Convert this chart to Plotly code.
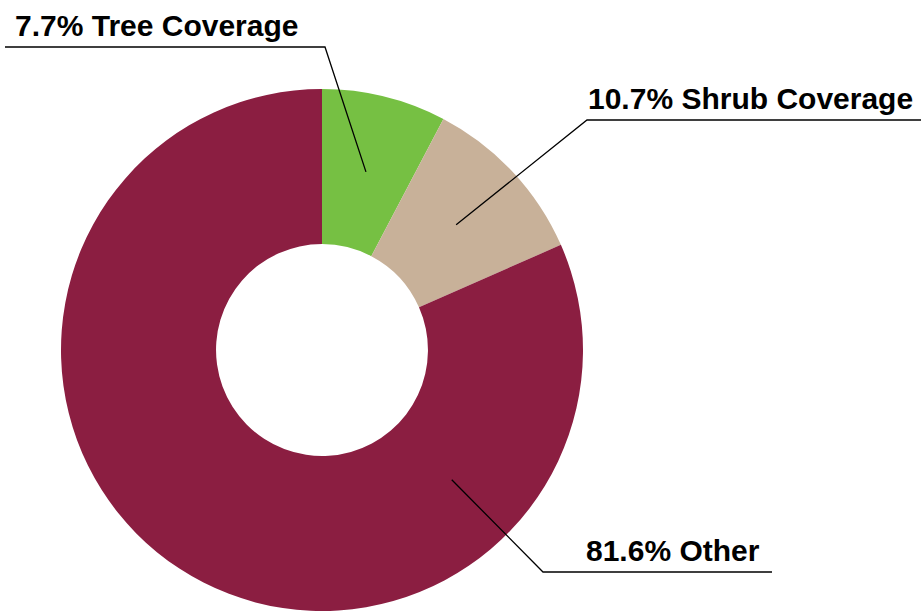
import math
import plotly.graph_objects as go

categories = ["Tree Coverage", "Shrub Coverage", "Other"]
values = [7.7, 10.7, 81.6]
colors = ["#76c043", "#c8b199", "#8b1e41"]
# label angles (deg clockwise from 12 o'clock); None -> mid-slice
label_angle_override = [None, None, 135.0]

W, H = 921, 612
# donut geometry in pixels
cx, cy, R = 322, 350, 261
hole = 0.406

fig = go.Figure(go.Pie(
    labels=categories, values=values, sort=False, direction="clockwise", rotation=0,
    hole=hole, marker=dict(colors=colors, line=dict(width=0)),
    textinfo="none", hoverinfo="label+percent", showlegend=False,
    domain=dict(x=[(cx - R) / W, (cx + R) / W], y=[1 - (cy + R) / H, 1 - (cy - R) / H]),
))

def px2paper(x, y):
    return x / W, 1 - y / H

# label layout: elbow point, line end x, text centre
elbows = [(325, 47), (587, 120), (543, 572)]
line_end_x = [5, 921, 772]
text_pos = [(157, 26), (750, 99), (673, 550)]

total = sum(values)
cum = 0.0
shapes, annotations = [], []
mid_r = R * (1 + hole) / 2
for i, v in enumerate(values):
    mid = (cum + v / 2) / total * 360
    cum += v
    ang = label_angle_override[i] if label_angle_override[i] is not None else mid
    a = math.radians(ang)
    ax, ay = cx + mid_r * math.sin(a), cy - mid_r * math.cos(a)
    ex, ey = elbows[i]
    pts = [(ax, ay), (ex, ey), (line_end_x[i], ey)]
    path = "M " + " L ".join("%f,%f" % px2paper(*p) for p in pts)
    shapes.append(dict(type="path", xref="paper", yref="paper", path=path,
                       line=dict(color="black", width=1.3)))
    tx, ty = text_pos[i]
    px_, py_ = px2paper(tx, ty)
    annotations.append(dict(xref="paper", yref="paper", x=px_, y=py_, xanchor="center",
                            yanchor="middle", showarrow=False,
                            text="<b>%.1f%% %s</b>" % (v, categories[i]),
                            font=dict(family="Liberation Sans, Arial, sans-serif", size=30, color="black")))

fig.update_layout(width=W, height=H, margin=dict(l=0, r=0, t=0, b=0),
                  paper_bgcolor="white", plot_bgcolor="white",
                  shapes=shapes, annotations=annotations)
fig.write_html("out.html")
